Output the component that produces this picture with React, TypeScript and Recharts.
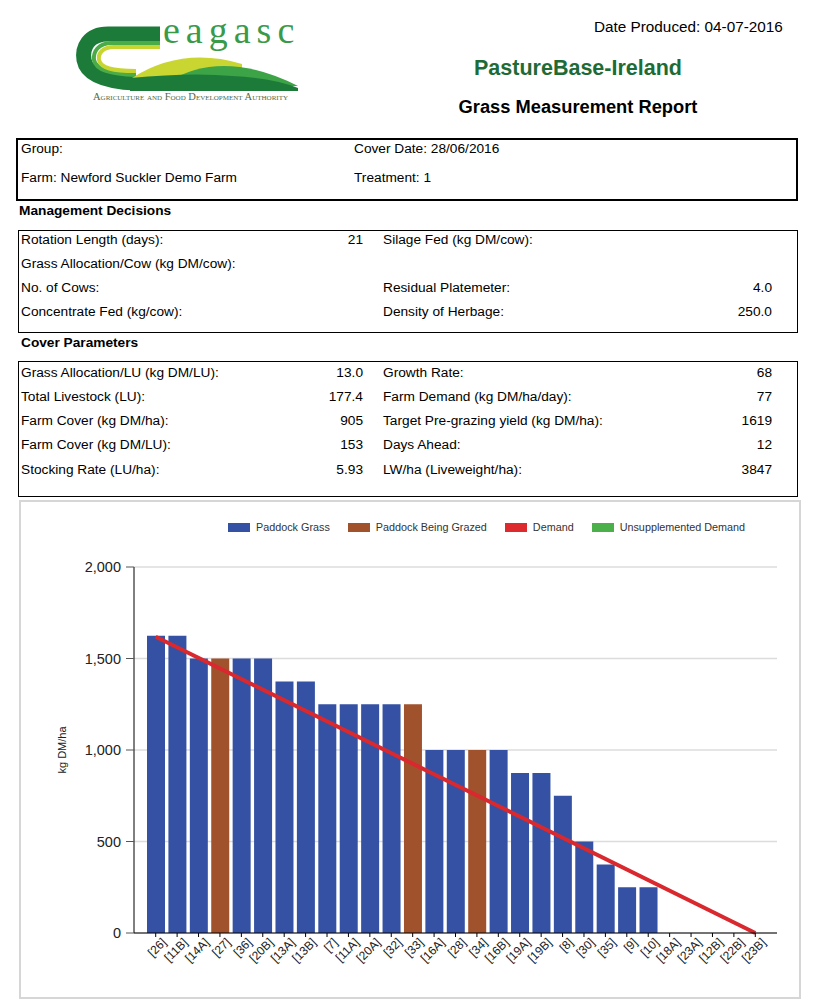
import React from 'react';
import {
  ComposedChart, Bar, Line, XAxis, YAxis, CartesianGrid, Legend,
} from 'recharts';

// paddocks in order of cover
const paddocks = [
  '[26]', '[11B]', '[14A]', '[27]', '[36]', '[20B]', '[13A]', '[13B]', '[7]', '[11A]',
  '[20A]', '[32]', '[33]', '[16A]', '[28]', '[34]', '[16B]', '[19A]', '[19B]', '[8]',
  '[30]', '[35]', '[9]', '[10]', '[18A]', '[23A]', '[12B]', '[22B]', '[23B]',
];
const paddockGrass = [
  1625, 1625, 1500, null, 1500, 1500, 1375, 1375, 1250, 1250,
  1250, 1250, null, 1000, 1000, null, 1000, 875, 875, 750,
  500, 375, 250, 250, 0, 0, 0, 0, 0,
];
const paddockGrazed = [
  null, null, null, 1500, null, null, null, null, null, null,
  null, null, 1250, null, null, 1000, null, null, null, null,
  null, null, null, null, null, null, null, null, null,
];
// demand wedge: target pre-grazing yield down to zero
const demand = [
  1619, null, null, null, null, null, null, null, null, null,
  null, null, null, null, null, null, null, null, null, null,
  null, null, null, null, null, null, null, null, 0,
];
const yTicks = [0, 500, 1000, 1500, 2000];

const legendItems = [
  { label: 'Paddock Grass', color: '#3451a3' },
  { label: 'Paddock Being Grazed', color: '#a0522d' },
  { label: 'Demand', color: '#dc2a2e' },
  { label: 'Unsupplemented Demand', color: '#4cb04a' },
];

const managementRows = [
  ['Rotation Length (days):', '21', 'Silage Fed (kg DM/cow):', ''],
  ['Grass Allocation/Cow (kg DM/cow):', '', '', ''],
  ['No. of Cows:', '', 'Residual Platemeter:', '4.0'],
  ['Concentrate Fed (kg/cow):', '', 'Density of Herbage:', '250.0'],
];
const managementY = [240, 264, 288, 312];

const coverRows = [
  ['Grass Allocation/LU (kg DM/LU):', '13.0', 'Growth Rate:', '68'],
  ['Total Livestock (LU):', '177.4', 'Farm Demand (kg DM/ha/day):', '77'],
  ['Farm Cover (kg DM/ha):', '905', 'Target Pre-grazing yield (kg DM/ha):', '1619'],
  ['Farm Cover (kg DM/LU):', '153', 'Days Ahead:', '12'],
  ['Stocking Rate (LU/ha):', '5.93', 'LW/ha (Liveweight/ha):', '3847'],
];
const coverY = [373, 397, 421, 445, 470];

const data = paddocks.map((p, i) => ({
  paddock: p,
  grass: paddockGrass[i],
  grazed: paddockGrazed[i],
  demand: demand[i],
}));

const FONT = '"Liberation Sans", Arial, sans-serif';
const FS = 13.7;

const txt = (x: number, y: number, s: string, extra: React.CSSProperties = {}) => (
  <div key={`${x}-${y}-${s}`} style={{
    position: 'absolute', left: x, top: y - 8, lineHeight: '16px', fontSize: FS,
    whiteSpace: 'nowrap', color: '#000', ...extra,
  }}>{s}</div>
);
const rtxt = (right: number, y: number, s: string) => (
  <div key={`r-${right}-${y}-${s}`} style={{
    position: 'absolute', left: right - 120, width: 120, top: y - 8, lineHeight: '16px',
    fontSize: FS, textAlign: 'right', whiteSpace: 'nowrap', color: '#000',
  }}>{s}</div>
);

const Logo = () => (
  <svg width={250} height={100} style={{ position: 'absolute', left: 72, top: 6, overflow: 'visible' }}>
    <g transform="translate(0,6)">
      {/* T / swoosh */}
      <path d="M88 22 L36 22 C16 22 10 36 12 48 C15 64 36 70 64 71" fill="none" stroke="#1d7b3a" strokeWidth={15} />
      <path d="M88 31 L40 31 C26 31 21 40 22 48 C24 58 38 62 64 63" fill="none" stroke="#4aab47" strokeWidth={4} />
      <path d="M88 35 L42 35 C30 35 26 42 27 48 C29 56 40 59 64 59" fill="none" stroke="#c8d530" strokeWidth={4} />
      {/* hills */}
      <path d="M60 66 Q110 34 170 52 L170 70 L60 70 Z" fill="#c9d631" />
      <path d="M96 70 Q150 36 226 74 L96 76 Z" fill="#3da347" />
      <path d="M58 66 Q120 60 160 64 Q200 66 226 76 L226 79 L58 79 Z" fill="#1d7b3a" />
      <text x={91} y={31} fontFamily='"Liberation Serif", "DejaVu Serif", serif' fontSize={38} fill="#3b9a48" letterSpacing={6}>eagasc</text>
      <text x={21} y={88} fontFamily='"Liberation Serif", serif' fontSize={10.5} fill="#4b6b48" style={{ fontVariant: 'small-caps' }}>Agriculture and Food Development Authority</text>
    </g>
  </svg>
);

const renderLegend = () => (
  <div style={{ display: 'flex', justifyContent: 'flex-start', fontFamily: FONT, fontSize: 10.8, color: '#333', paddingLeft: 207 }}>
    {legendItems.map((it) => (
      <div key={it.label} style={{ display: 'flex', alignItems: 'center', marginRight: 18 }}>
        <span style={{ display: 'inline-block', width: 22, height: 9, background: it.color, marginRight: 6 }} />
        <span>{it.label}</span>
      </div>
    ))}
  </div>
);

const XTick = ({ x, y, payload }: any) => (
  <g transform={`translate(${x},${y})`}>
    <text x={5} y={4} dy={7} textAnchor="end" transform="rotate(-45)" fontSize={12} fill="#222" fontFamily={FONT}>
      {payload.value}
    </text>
  </g>
);

const YLabel = ({ viewBox }: any) => {
  const cx = 45;
  const cy = viewBox.y + viewBox.height / 2;
  return (
    <text x={cx} y={cy} transform={`rotate(-90 ${cx} ${cy})`} textAnchor="middle" fontSize={11} fill="#222" fontFamily={FONT}>
      kg DM/ha
    </text>
  );
};

export default function App() {
  return (
    <div style={{ position: 'absolute', left: 0, top: 0, width: 831, height: 1007, background: '#fff', fontFamily: FONT }}>
      <Logo />
      {txt(594, 27, 'Date Produced: 04-07-2016', { fontSize: 15.3 })}
      <div style={{ position: 'absolute', left: 400, width: 356, top: 56, textAlign: 'center', fontSize: 21.5, fontWeight: 'bold', color: '#1e6b36' }}>PastureBase-Ireland</div>
      <div style={{ position: 'absolute', left: 400, width: 356, top: 96, textAlign: 'center', fontSize: 18.3, fontWeight: 'bold', color: '#000' }}>Grass Measurement Report</div>

      {/* farm box */}
      <div style={{ position: 'absolute', left: 16, top: 138, width: 778, height: 59, border: '2px solid #000' }} />
      {txt(21, 149, 'Group:')}
      {txt(354, 149, 'Cover Date: 28/06/2016')}
      {txt(21, 178, 'Farm: Newford Suckler Demo Farm')}
      {txt(354, 178, 'Treatment: 1')}

      {txt(19, 211, 'Management Decisions', { fontWeight: 'bold' })}
      <div style={{ position: 'absolute', left: 18, top: 230, width: 778, height: 101, border: '1px solid #000' }} />
      {managementRows.map((r, i) => [
        txt(21, managementY[i], r[0]), rtxt(363, managementY[i], r[1]),
        txt(383, managementY[i], r[2]), rtxt(772, managementY[i], r[3]),
      ])}

      {txt(21, 343, 'Cover Parameters', { fontWeight: 'bold' })}
      <div style={{ position: 'absolute', left: 18, top: 361, width: 778, height: 134, border: '1px solid #000' }} />
      {coverRows.map((r, i) => [
        txt(21, coverY[i], r[0]), rtxt(363, coverY[i], r[1]),
        txt(383, coverY[i], r[2]), rtxt(772, coverY[i], r[3]),
      ])}

      {/* chart */}
      <div style={{ position: 'absolute', left: 19, top: 500, width: 778, height: 495, border: '2px solid #d6d6d6' }}>
        <ComposedChart width={778} height={495} data={data} margin={{ top: 53, right: 22, bottom: 0, left: 0 }}>
          <Legend verticalAlign="top" content={renderLegend} wrapperStyle={{ top: 19, left: 0, width: 778 }} />
          <CartesianGrid vertical={false} stroke="#dcdcdc" strokeWidth={1.5} />
          <XAxis
            dataKey="paddock" interval={0} tick={<XTick />} height={64}
            padding={{ left: 11, right: 11 }}
            axisLine={{ stroke: '#000' }} tickLine={{ stroke: '#000' }} tickSize={4}
          />
          <YAxis
            domain={[0, 2000]} ticks={yTicks} width={113}
            tickFormatter={(v: number) => v.toLocaleString('en-US')}
            tick={{ fontSize: 14.5, fill: '#222', fontFamily: FONT, dx: -3 }}
            axisLine={{ stroke: '#000' }} tickLine={{ stroke: '#555' }} tickSize={8}
            label={{ content: <YLabel /> }}
          />
          <Bar dataKey="grass" stackId="p" fill="#3451a3" barSize={18} isAnimationActive={false} />
          <Bar dataKey="grazed" stackId="p" fill="#a0522d" barSize={18} isAnimationActive={false} />
          <Line dataKey="demand" type="linear" stroke="#d9282e" strokeWidth={4} dot={false} connectNulls isAnimationActive={false} />
        </ComposedChart>
      </div>
    </div>
  );
}
